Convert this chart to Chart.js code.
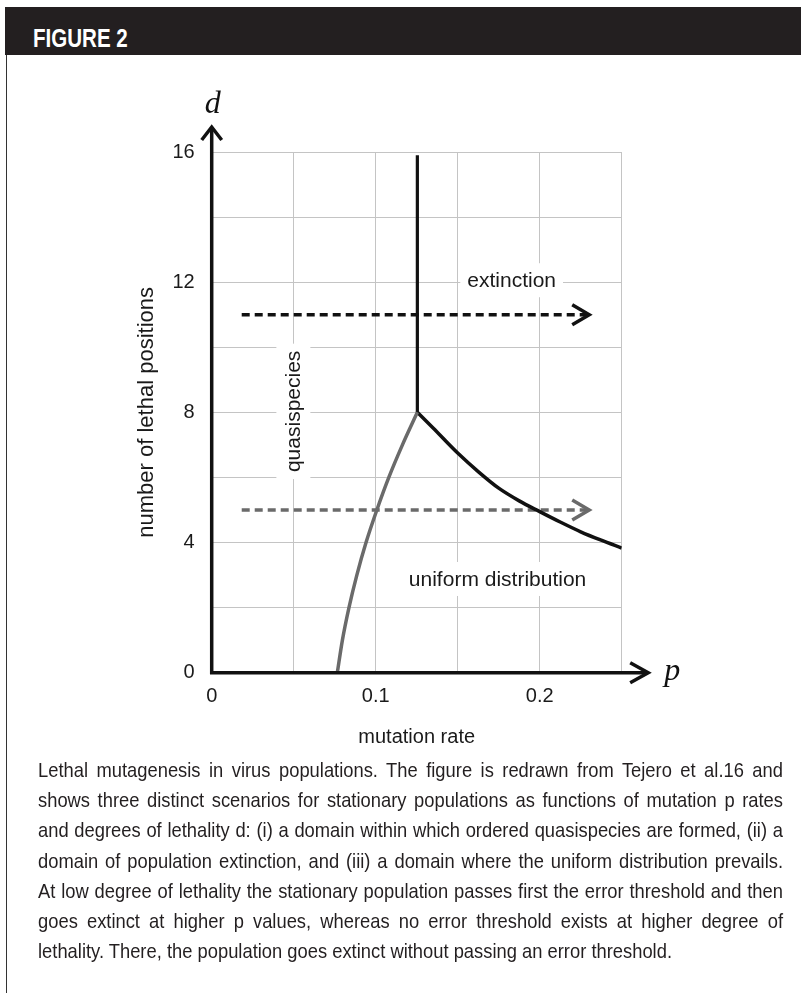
<!DOCTYPE html>
<html>
<head>
<meta charset="utf-8">
<script src="https://cdn.jsdelivr.net/npm/chart.js@4.4.1/dist/chart.umd.min.js"></script>
<style>
	html, body { margin: 0; padding: 0; background: #fff; }
	body { width: 801px; height: 993px; position: relative; overflow: hidden; font-family: "Liberation Sans", Arial, sans-serif; }
	#bar { position: absolute; left: 5px; top: 7px; width: 796px; height: 48px; background: #231f20; }
	#bar span { position: absolute; left: 28px; top: 18px; color: #fff; font: bold 26px "Liberation Sans", Arial, sans-serif; line-height: 1; transform: scaleX(0.79); transform-origin: 0 0; white-space: nowrap; }
	#edge { position: absolute; left: 6px; top: 55px; width: 1px; height: 938px; background: #333; }
	#wrap { position: absolute; left: 100px; top: 90px; width: 600px; height: 680px; }
	#caption { position: absolute; left: 38px; top: 755px; width: 745px; color: #231f20; font: 21px "Liberation Sans", Arial, sans-serif; }
	#caption div { height: 30.2px; line-height: 30.2px; text-align: justify; text-align-last: justify; transform-origin: 0 0; }
	#caption div.last { text-align: left; text-align-last: left; }
</style>
</head>
<body>
<div id="bar"><span>FIGURE 2</span></div>
<div id="edge"></div>
<div id="wrap"><canvas id="chart" width="600" height="680"></canvas></div>
<div id="caption">
	<div>Lethal mutagenesis in virus populations. The figure is redrawn from Tejero et al.16 and</div>
	<div>shows three distinct scenarios for stationary populations as functions of mutation p rates</div>
	<div>and degrees of lethality d: (i) a domain within which ordered quasispecies are formed, (ii) a</div>
	<div>domain of population extinction, and (iii) a domain where the uniform distribution prevails.</div>
	<div>At low degree of lethality the stationary population passes first the error threshold and then</div>
	<div>goes extinct at higher p values, whereas no error threshold exists at higher degree of</div>
	<div class="last"><span>lethality. There, the population goes extinct without passing an error threshold.</span></div>
</div>
<script>
// error threshold (grey curve)
const pThreshold = [0.0766, 0.0797, 0.0837, 0.0885, 0.0941, 0.1007, 0.108, 0.1163, 0.1254];
const dThreshold = [0, 1, 2, 3, 4, 5, 6, 7, 8];
// extinction boundary, lower branch
const pExtinct = [0.1254, 0.135, 0.15, 0.1625, 0.175, 0.1875, 0.2, 0.2125, 0.225, 0.2375, 0.25];
const dExtinct = [8, 7.52, 6.75, 6.18, 5.67, 5.28, 4.95, 4.63, 4.33, 4.07, 3.83];
// extinction boundary, vertical branch
const pVertical = [0.1254, 0.1254];
const dVertical = [8, 15.9];
// dashed arrows
const pArrow = [0.0183, 0.2302];
const dArrowHigh = [11, 11];
const dArrowLow = [5, 5];
// grid and tick labels
const xGrid = [0, 0.05, 0.1, 0.15, 0.2, 0.25];
const xLabels = ['0', '', '0.1', '', '0.2', ''];
const yGrid = [0, 2, 4, 6, 8, 10, 12, 14, 16];
const yLabels = ['0', '', '4', '', '8', '', '12', '', '16'];
// region names
const regionText = ['extinction', 'quasispecies', 'uniform distribution'];
const regionP = [0.1829, 0.0498, 0.1743];
const regionD = [12.06, 8.03, 2.88];

const BLACK = '#111111';
const GREY = '#6a6a6a';
const SANS = '"Liberation Sans", Arial, sans-serif';

// squeeze the caption like the condensed face of the original
(function fitCaption() {
	const cap = document.getElementById('caption');
	const w = cap.querySelector('.last span').getBoundingClientRect().width;
	const s = 634 / w;
	cap.querySelectorAll('div').forEach(d => {
		d.style.width = (745 / s) + 'px';
		d.style.transform = 'scaleX(' + s + ')';
	});
})();

const pts = (xs, ys) => xs.map((x, i) => ({ x, y: ys[i] }));

function chevron(ctx, x, y, dx, dy, dir, color) {
	ctx.save();
	ctx.strokeStyle = color;
	ctx.lineWidth = 3.5;
	ctx.lineJoin = 'miter';
	ctx.beginPath();
	if (dir === 'right') {
		ctx.moveTo(x - dx, y - dy); ctx.lineTo(x, y); ctx.lineTo(x - dx, y + dy);
	} else {
		ctx.moveTo(x - dx, y + dy); ctx.lineTo(x, y); ctx.lineTo(x + dx, y + dy);
	}
	ctx.stroke();
	ctx.restore();
}

const decor = {
	id: 'decor',
	beforeDatasetsDraw(chart) {
		const { ctx, scales: { x, y } } = chart;
		ctx.save();
		ctx.font = '21px ' + SANS;
		ctx.textAlign = 'center';
		ctx.textBaseline = 'middle';
		regionText.forEach((t, i) => {
			const px = x.getPixelForValue(regionP[i]);
			const py = y.getPixelForValue(regionD[i]);
			const w = ctx.measureText(t).width + 14;
			ctx.save();
			ctx.translate(px, py);
			if (t === 'quasispecies') ctx.rotate(-Math.PI / 2);
			ctx.fillStyle = '#fff';
			ctx.fillRect(-w / 2, -17, w, 34);
			ctx.fillStyle = '#1a1a1a';
			ctx.fillText(t, 0, 1);
			ctx.restore();
		});
		ctx.restore();
	},
	afterDatasetsDraw(chart) {
		const { ctx, scales: { x, y } } = chart;
		const x0 = x.getPixelForValue(0);
		const y0 = y.getPixelForValue(0);
		const yTip = y.getPixelForValue(16) - 25;
		const xTip = x.getPixelForValue(0.25) + 26.5;
		ctx.save();
		ctx.strokeStyle = BLACK;
		ctx.lineWidth = 3.5;
		ctx.beginPath();
		ctx.moveTo(x0, y0 + 1.75);
		ctx.lineTo(x0, yTip + 1);
		ctx.moveTo(x0 - 1.75, y0);
		ctx.lineTo(xTip - 1, y0);
		ctx.stroke();
		ctx.restore();
		chevron(ctx, x0, yTip, 10, 13, 'up', BLACK);
		chevron(ctx, xTip, y0, 18, 10, 'right', BLACK);

		[3, 4].forEach(i => {
			const meta = chart.getDatasetMeta(i);
			const last = meta.data[meta.data.length - 1];
			chevron(ctx, last.x, last.y, 17, 10, 'right', chart.data.datasets[i].borderColor);
		});

		ctx.save();
		ctx.fillStyle = BLACK;
		ctx.font = 'italic 32px "Liberation Serif", "Times New Roman", serif';
		ctx.textAlign = 'center';
		ctx.textBaseline = 'alphabetic';
		ctx.fillText('d', x0 + 1, y.getPixelForValue(16) - 39);
		ctx.fillText('p', xTip + 24, y0 + 7);
		ctx.restore();
	}
};

new Chart(document.getElementById('chart'), {
	type: 'line',
	data: {
		datasets: [
			{ data: pts(pThreshold, dThreshold), borderColor: GREY, borderWidth: 3.5, cubicInterpolationMode: 'monotone' },
			{ data: pts(pExtinct, dExtinct), borderColor: BLACK, borderWidth: 3.5, cubicInterpolationMode: 'monotone' },
			{ data: pts(pVertical, dVertical), borderColor: BLACK, borderWidth: 3.2 },
			{ data: pts(pArrow, dArrowHigh), borderColor: BLACK, borderWidth: 3.5, borderDash: [8, 5] },
			{ data: pts(pArrow, dArrowLow), borderColor: GREY, borderWidth: 3.5, borderDash: [8, 5] }
		]
	},
	options: {
		responsive: false,
		animation: false,
		devicePixelRatio: 1,
		layout: { padding: { top: 62, right: 78.3, bottom: 0, left: 0 } },
		elements: { point: { radius: 0 }, line: { borderCapStyle: 'butt' } },
		plugins: { legend: { display: false }, tooltip: { enabled: false } },
		scales: {
			x: {
				type: 'linear', min: 0, max: 0.25,
				afterBuildTicks: s => { s.ticks = xGrid.map(v => ({ value: v })); },
				afterFit: s => { s.height = 97.3; },
				grid: { color: '#c4c4c4', lineWidth: 1, drawTicks: false },
				border: { display: false },
				ticks: {
					autoSkip: false, maxRotation: 0, padding: 12, color: '#1a1a1a',
					font: { family: SANS, size: 20 },
					callback: (v, i) => xLabels[i]
				},
				title: { display: true, text: 'mutation rate', color: '#1a1a1a', font: { family: SANS, size: 20 }, padding: { top: 0, bottom: 21 } }
			},
			y: {
				type: 'linear', min: 0, max: 16,
				afterBuildTicks: s => { s.ticks = yGrid.map(v => ({ value: v })); },
				afterFit: s => { s.width = 111.7; },
				grid: { color: '#c4c4c4', lineWidth: 1, drawTicks: false },
				border: { display: false },
				ticks: {
					autoSkip: false, padding: 17, color: '#1a1a1a',
					font: { family: SANS, size: 20 },
					callback: (v, i) => yLabels[i]
				},
				title: { display: true, text: 'number of lethal positions', color: '#1a1a1a', font: { family: SANS, size: 22 }, padding: { top: 34, bottom: 0 } }
			}
		}
	},
	plugins: [decor]
});
</script>
</body>
</html>
